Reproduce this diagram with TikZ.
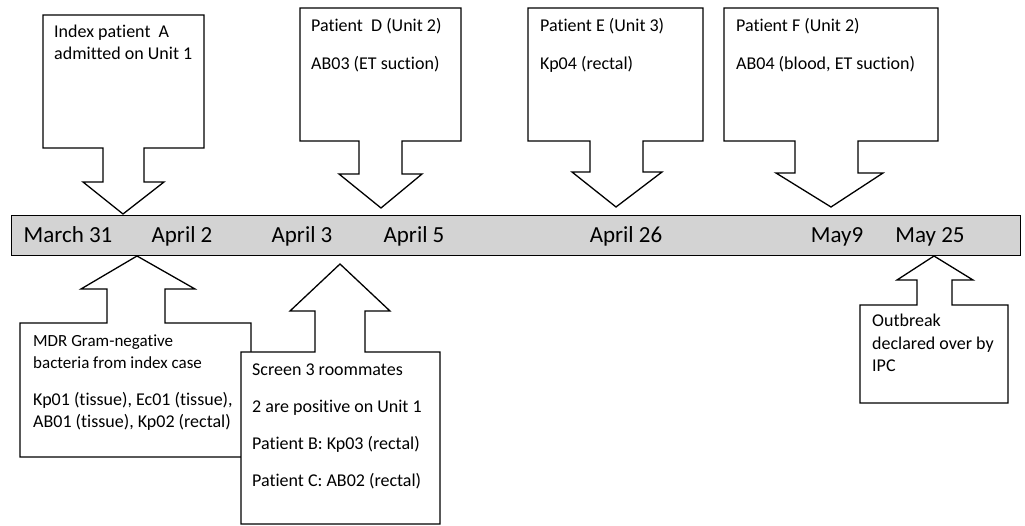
\documentclass[tikz,border=0pt]{standalone}
\usepackage{fontspec}
\setmainfont{Carlito}[Ligatures=NoCommon]
\usetikzlibrary{positioning}
\definecolor{bargray}{RGB}{211,211,211}
\tikzset{
  callout/.style={draw, fill=white, line width=1.3pt, line join=miter},
  note/.style={anchor=base west, align=left, inner sep=0pt,
    font=\fontsize{18}{22}\selectfont},
  datelbl/.style={anchor=base, inner sep=0pt, font=\fontsize{23}{26}\selectfont}
}

\begin{document}
\begin{tikzpicture}[x=1pt, y=-1pt]
\useasboundingbox (0,0) rectangle (1025,526);
% timeline
\node[draw, fill=bargray, line width=1.3pt, anchor=north west, inner sep=0pt,
  minimum width=1009pt, minimum height=40pt] (bar) at (11,215) {};
\node[datelbl] (d31) at (68,243) {March 31};
\node[datelbl] (d2) at (182,243) {April 2};
\node[datelbl] (d3) at (302,243) {April 3};
\node[datelbl] (d5) at (414,243) {April 5};
\node[datelbl] (d26) at (626,243) {April 26};
\node[datelbl] (m9) at (837,243) {May9};
\node[datelbl] (m25) at (930,243) {May 25};

% callouts above (note nodes sit on the baseline of their last line)
\draw[callout] (43,15) -- (204,15) -- (204,148) -- (144,148) -- (144,182)
  -- (164,182) -- (123,214) -- (83,182) -- (103,182) -- (103,148)
  -- (43,148) -- cycle;
\node[note] (ptA) at (54,60) {Index patient\ \ A\\admitted on Unit 1};

\draw[callout] (300,8) -- (461,8) -- (461,141) -- (402,141) -- (402,174)
  -- (422,174) -- (381,208) -- (339,174) -- (359,174) -- (359,141)
  -- (300,141) -- cycle;
\node[note] (ptD) at (311,70) {Patient\ \ D (Unit 2)\\[16pt]AB03 (ET suction)};

\draw[callout] (528,8) -- (703,8) -- (703,141) -- (643,141) -- (643,172)
  -- (662,172) -- (616,207) -- (572,172) -- (590,172) -- (590,141)
  -- (528,141) -- cycle;
\node[note] (ptE) at (540,70) {Patient E (Unit 3)\\[16pt]Kp04 (rectal)};

\draw[callout] (724,8) -- (938,8) -- (938,141) -- (858,141) -- (858,173)
  -- (883,173) -- (831,207) -- (776,173) -- (795,173) -- (795,141)
  -- (724,141) -- cycle;
\node[note] (ptF) at (736,70) {Patient F (Unit 2)\\[16pt]AB04 (blood, ET suction)};

% callouts below
\draw[callout] (137,256) -- (195,289) -- (165,289) -- (165,323) -- (251,323)
  -- (251,457) -- (20,457) -- (20,323) -- (107,323) -- (107,289)
  -- (81,289) -- cycle;
\node[note, font=\fontsize{17}{21}\selectfont] (mdr) at (33,368)
  {MDR Gram-negative\\bacteria from index case};
\node[note] (mdrlist) at (33,427) {Kp01 (tissue), Ec01 (tissue),\\AB01 (tissue), Kp02 (rectal)};

\draw[callout] (340,264) -- (390,311) -- (365,311) -- (365,352) -- (440,352)
  -- (440,524) -- (241,524) -- (241,352) -- (315,352) -- (315,311)
  -- (290,311) -- cycle;
\node[note] (scr) at (252,486) {Screen 3 roommates\\[15pt]2 are positive on Unit 1\\[15pt]%
  Patient B: Kp03 (rectal)\\[15pt]Patient C: AB02 (rectal)};

\draw[callout] (934,256) -- (973,280) -- (952,280) -- (952,305) -- (1008,305)
  -- (1008,403) -- (860,403) -- (860,305) -- (917,305) -- (917,280)
  -- (897,280) -- cycle;
\node[note] (ipc) at (872,371) {Outbreak\\declared over by\\IPC};
\end{tikzpicture}
\end{document}
